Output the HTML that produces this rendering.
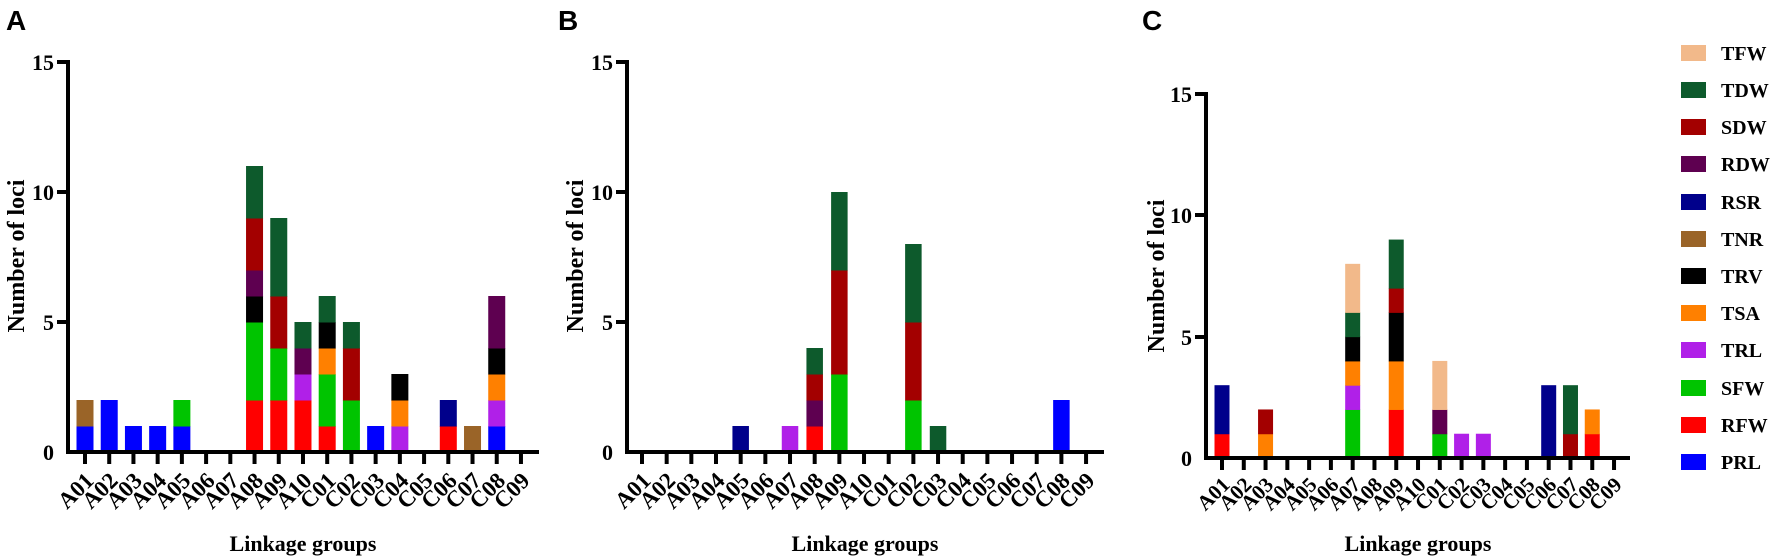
<!DOCTYPE html>
<html><head><meta charset="utf-8"><style>
html,body{margin:0;padding:0;background:#fff;}
svg{display:block;}
text{font-family:"Liberation Serif",serif;font-weight:bold;fill:#000;}
.pl{font-family:"Liberation Sans",sans-serif;font-size:28px;}
.yt{font-size:22px;text-anchor:end;}
.tl{font-size:23px;text-anchor:end;}
.tc{font-size:21px;text-anchor:end;}
.at{font-size:22px;text-anchor:middle;}
.ay{font-size:24px;text-anchor:middle;}
.lg{font-size:20px;}
</style></head><body>
<svg id="s" width="1772" height="558" viewBox="0 0 1772 558" xmlns="http://www.w3.org/2000/svg">
<g id="bars"></g>
<text class="pl" x="6" y="30">A</text>
<text class="pl" x="558" y="30">B</text>
<text class="pl" x="1142" y="30">C</text>

<g stroke="#000" stroke-width="4" fill="none">
<line x1="68" y1="60" x2="68" y2="454"/>
<line x1="66" y1="452" x2="539" y2="452"/>
<line x1="57" y1="62" x2="68" y2="62"/>
<line x1="57" y1="192" x2="68" y2="192"/>
<line x1="57" y1="322" x2="68" y2="322"/>
<line x1="627" y1="60" x2="627" y2="454"/>
<line x1="625" y1="452" x2="1104" y2="452"/>
<line x1="616" y1="62" x2="627" y2="62"/>
<line x1="616" y1="192" x2="627" y2="192"/>
<line x1="616" y1="322" x2="627" y2="322"/>
<line x1="1206" y1="92" x2="1206" y2="460"/>
<line x1="1204" y1="458" x2="1630" y2="458"/>
<line x1="1195" y1="94" x2="1206" y2="94"/>
<line x1="1195" y1="215" x2="1206" y2="215"/>
<line x1="1195" y1="337" x2="1206" y2="337"/>
</g>
<g id="ticks" stroke="#000" stroke-width="4"></g>

<text class="yt" x="54" y="70">15</text>
<text class="yt" x="54" y="200">10</text>
<text class="yt" x="54" y="330">5</text>
<text class="yt" x="54" y="460">0</text>
<text class="yt" x="613" y="70">15</text>
<text class="yt" x="613" y="200">10</text>
<text class="yt" x="613" y="330">5</text>
<text class="yt" x="613" y="460">0</text>
<text class="yt" x="1192" y="102">15</text>
<text class="yt" x="1192" y="223">10</text>
<text class="yt" x="1192" y="345">5</text>
<text class="yt" x="1192" y="466">0</text>

<text class="ay" transform="translate(24,256) rotate(-90)">Number of loci</text>
<text class="ay" transform="translate(583,256) rotate(-90)">Number of loci</text>
<text class="ay" transform="translate(1164,276) rotate(-90)">Number of loci</text>
<text class="at" x="303" y="551">Linkage groups</text>
<text class="at" x="865" y="551">Linkage groups</text>
<text class="at" x="1418" y="551">Linkage groups</text>

<text class="tl" transform="translate(95,482) rotate(-45)">A01</text>
<text class="tl" transform="translate(119.2,482) rotate(-45)">A02</text>
<text class="tl" transform="translate(143.4,482) rotate(-45)">A03</text>
<text class="tl" transform="translate(167.7,482) rotate(-45)">A04</text>
<text class="tl" transform="translate(191.9,482) rotate(-45)">A05</text>
<text class="tl" transform="translate(216.1,482) rotate(-45)">A06</text>
<text class="tl" transform="translate(240.3,482) rotate(-45)">A07</text>
<text class="tl" transform="translate(264.5,482) rotate(-45)">A08</text>
<text class="tl" transform="translate(288.8,482) rotate(-45)">A09</text>
<text class="tl" transform="translate(313,482) rotate(-45)">A10</text>
<text class="tl" transform="translate(337.2,482) rotate(-45)">C01</text>
<text class="tl" transform="translate(361.4,482) rotate(-45)">C02</text>
<text class="tl" transform="translate(385.6,482) rotate(-45)">C03</text>
<text class="tl" transform="translate(409.9,482) rotate(-45)">C04</text>
<text class="tl" transform="translate(434.1,482) rotate(-45)">C05</text>
<text class="tl" transform="translate(458.3,482) rotate(-45)">C06</text>
<text class="tl" transform="translate(482.5,482) rotate(-45)">C07</text>
<text class="tl" transform="translate(506.7,482) rotate(-45)">C08</text>
<text class="tl" transform="translate(531,482) rotate(-45)">C09</text>
<text class="tl" transform="translate(652,482) rotate(-45)">A01</text>
<text class="tl" transform="translate(676.7,482) rotate(-45)">A02</text>
<text class="tl" transform="translate(701.3,482) rotate(-45)">A03</text>
<text class="tl" transform="translate(726,482) rotate(-45)">A04</text>
<text class="tl" transform="translate(750.7,482) rotate(-45)">A05</text>
<text class="tl" transform="translate(775.3,482) rotate(-45)">A06</text>
<text class="tl" transform="translate(800,482) rotate(-45)">A07</text>
<text class="tl" transform="translate(824.7,482) rotate(-45)">A08</text>
<text class="tl" transform="translate(849.3,482) rotate(-45)">A09</text>
<text class="tl" transform="translate(874,482) rotate(-45)">A10</text>
<text class="tl" transform="translate(898.7,482) rotate(-45)">C01</text>
<text class="tl" transform="translate(923.3,482) rotate(-45)">C02</text>
<text class="tl" transform="translate(948,482) rotate(-45)">C03</text>
<text class="tl" transform="translate(972.7,482) rotate(-45)">C04</text>
<text class="tl" transform="translate(997.3,482) rotate(-45)">C05</text>
<text class="tl" transform="translate(1022,482) rotate(-45)">C06</text>
<text class="tl" transform="translate(1046.7,482) rotate(-45)">C07</text>
<text class="tl" transform="translate(1071.3,482) rotate(-45)">C08</text>
<text class="tl" transform="translate(1096,482) rotate(-45)">C09</text>
<text class="tc" transform="translate(1231,486) rotate(-45)">A01</text>
<text class="tc" transform="translate(1252.8,486) rotate(-45)">A02</text>
<text class="tc" transform="translate(1274.6,486) rotate(-45)">A03</text>
<text class="tc" transform="translate(1296.3,486) rotate(-45)">A04</text>
<text class="tc" transform="translate(1318.1,486) rotate(-45)">A05</text>
<text class="tc" transform="translate(1339.9,486) rotate(-45)">A06</text>
<text class="tc" transform="translate(1361.7,486) rotate(-45)">A07</text>
<text class="tc" transform="translate(1383.4,486) rotate(-45)">A08</text>
<text class="tc" transform="translate(1405.2,486) rotate(-45)">A09</text>
<text class="tc" transform="translate(1427,486) rotate(-45)">A10</text>
<text class="tc" transform="translate(1448.8,486) rotate(-45)">C01</text>
<text class="tc" transform="translate(1470.6,486) rotate(-45)">C02</text>
<text class="tc" transform="translate(1492.3,486) rotate(-45)">C03</text>
<text class="tc" transform="translate(1514.1,486) rotate(-45)">C04</text>
<text class="tc" transform="translate(1535.9,486) rotate(-45)">C05</text>
<text class="tc" transform="translate(1557.7,486) rotate(-45)">C06</text>
<text class="tc" transform="translate(1579.4,486) rotate(-45)">C07</text>
<text class="tc" transform="translate(1601.2,486) rotate(-45)">C08</text>
<text class="tc" transform="translate(1623,486) rotate(-45)">C09</text>

<g>
<rect x="1681" y="45" width="25" height="16" fill="#f2b98a"/><text class="lg" x="1721" y="60">TFW</text>
<rect x="1681" y="82" width="25" height="16" fill="#0d5a2c"/><text class="lg" x="1721" y="97">TDW</text>
<rect x="1681" y="119" width="25" height="16" fill="#a30000"/><text class="lg" x="1721" y="134">SDW</text>
<rect x="1681" y="156" width="25" height="16" fill="#5e0050"/><text class="lg" x="1721" y="171">RDW</text>
<rect x="1681" y="194" width="25" height="16" fill="#00008b"/><text class="lg" x="1721" y="209">RSR</text>
<rect x="1681" y="231" width="25" height="16" fill="#9a6428"/><text class="lg" x="1721" y="246">TNR</text>
<rect x="1681" y="268" width="25" height="16" fill="#000000"/><text class="lg" x="1721" y="283">TRV</text>
<rect x="1681" y="305" width="25" height="16" fill="#ff8000"/><text class="lg" x="1721" y="320">TSA</text>
<rect x="1681" y="342" width="25" height="16" fill="#b020e8"/><text class="lg" x="1721" y="357">TRL</text>
<rect x="1681" y="380" width="25" height="16" fill="#00c400"/><text class="lg" x="1721" y="395">SFW</text>
<rect x="1681" y="417" width="25" height="16" fill="#ff0000"/><text class="lg" x="1721" y="432">RFW</text>
<rect x="1681" y="454" width="25" height="16" fill="#0000ff"/><text class="lg" x="1721" y="469">PRL</text>
</g>
</svg>
<script>
var C={PRL:"#0000ff",RFW:"#ff0000",SFW:"#00c400",TRL:"#b020e8",TSA:"#ff8000",TRV:"#000000",TNR:"#9a6428",RSR:"#00008b",RDW:"#5e0050",SDW:"#a30000",TDW:"#0d5a2c",TFW:"#f2b98a"};
var P=[
 {x0:85,dx:24.22,y0:452,u:26.0,w:17,tb:464,d:{0:[["PRL",1],["TNR",1]],1:[["PRL",2]],2:[["PRL",1]],3:[["PRL",1]],4:[["PRL",1],["SFW",1]],
  7:[["RFW",2],["SFW",3],["TRV",1],["RDW",1],["SDW",2],["TDW",2]],8:[["RFW",2],["SFW",2],["SDW",2],["TDW",3]],
  9:[["RFW",2],["TRL",1],["RDW",1],["TDW",1]],10:[["RFW",1],["SFW",2],["TSA",1],["TRV",1],["TDW",1]],
  11:[["SFW",2],["SDW",2],["TDW",1]],12:[["PRL",1]],13:[["TRL",1],["TSA",1],["TRV",1]],15:[["RFW",1],["RSR",1]],
  16:[["TNR",1]],17:[["PRL",1],["TRL",1],["TSA",1],["TRV",1],["RDW",2]]}},
 {x0:642,dx:24.67,y0:452,u:26.0,w:16.5,tb:464,d:{4:[["RSR",1]],6:[["TRL",1]],7:[["RFW",1],["RDW",1],["SDW",1],["TDW",1]],
  8:[["SFW",3],["SDW",4],["TDW",3]],11:[["SFW",2],["SDW",3],["TDW",3]],12:[["TDW",1]],17:[["PRL",2]]}},
 {x0:1222,dx:21.78,y0:458,u:24.27,w:15,tb:470,d:{0:[["RFW",1],["RSR",2]],2:[["TSA",1],["SDW",1]],
  6:[["SFW",2],["TRL",1],["TSA",1],["TRV",1],["TDW",1],["TFW",2]],8:[["RFW",2],["TSA",2],["TRV",2],["SDW",1],["TDW",2]],
  10:[["SFW",1],["RDW",1],["TFW",2]],11:[["TRL",1]],12:[["TRL",1]],15:[["RSR",3]],16:[["SDW",1],["TDW",2]],17:[["RFW",1],["TSA",1]]}}
];
var NS="http://www.w3.org/2000/svg",bars=document.getElementById("bars"),ticks=document.getElementById("ticks");
P.forEach(function(p){
 for(var i=0;i<19;i++){
  var x=p.x0+i*p.dx;
  var l=document.createElementNS(NS,"line");
  l.setAttribute("x1",x);l.setAttribute("x2",x);l.setAttribute("y1",p.y0);l.setAttribute("y2",p.tb);
  ticks.appendChild(l);
  var s=p.d[i]; if(!s) continue;
  var c=0;
  s.forEach(function(seg){
   var r=document.createElementNS(NS,"rect");
   var yt=p.y0-(c+seg[1])*p.u, yb=p.y0-c*p.u;
   r.setAttribute("x",x-p.w/2);r.setAttribute("width",p.w);
   r.setAttribute("y",yt);r.setAttribute("height",yb-yt+0.5);
   r.setAttribute("fill",C[seg[0]]);
   bars.appendChild(r);c+=seg[1];
  });
 }
});
</script>
</body></html>
